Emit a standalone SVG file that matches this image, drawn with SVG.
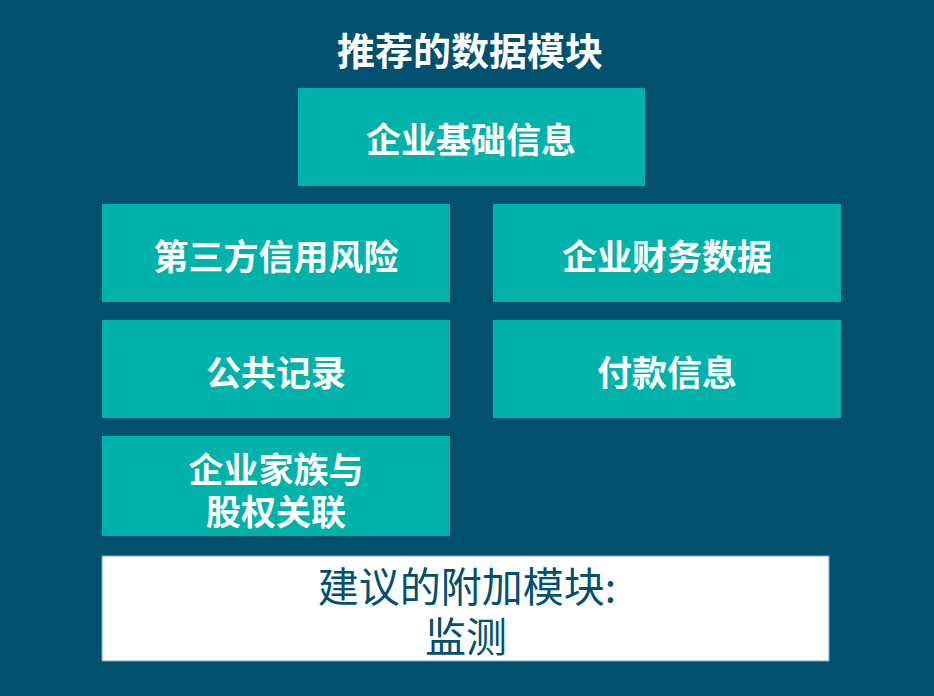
<svg xmlns="http://www.w3.org/2000/svg" width="934" height="696" viewBox="0 0 934 696">
<style>
.bg{fill:#00506E}
.box{fill:#00B2A9}
.lbl{font-family:"Noto Sans CJK SC","Noto Sans",sans-serif;font-weight:bold;font-size:35px;fill:#FFFFFF;text-anchor:middle;dominant-baseline:central}
.title{font-family:"Noto Sans CJK SC","Noto Sans",sans-serif;font-weight:bold;font-size:38px;fill:#FFFFFF;text-anchor:middle;dominant-baseline:central}
.add{font-family:"Noto Sans CJK SC","Noto Sans",sans-serif;font-size:41px;fill:#00506E;text-anchor:middle;dominant-baseline:central}
</style>
<rect class="bg" x="0" y="0" width="934" height="696"/>
<text class="title" x="470" y="48">推荐的数据模块</text>
<g id="n1"><rect class="box" x="298" y="88" width="347" height="98"/><text class="lbl" x="471" y="137">企业基础信息</text></g>
<g id="n2"><rect class="box" x="102" y="204" width="348" height="98"/><text class="lbl" x="276" y="254">第三方信用风险</text></g>
<g id="n3"><rect class="box" x="493" y="204" width="348" height="98"/><text class="lbl" x="667" y="254">企业财务数据</text></g>
<g id="n4"><rect class="box" x="102" y="320" width="348" height="98"/><text class="lbl" x="276" y="370">公共记录</text></g>
<g id="n5"><rect class="box" x="493" y="320" width="348" height="98"/><text class="lbl" x="667" y="370">付款信息</text></g>
<g id="n6"><rect class="box" x="102" y="436" width="348" height="100"/><text class="lbl" x="276" y="467">企业家族与</text><text class="lbl" x="276" y="509">股权关联</text></g>
<g id="n7"><rect x="102" y="556" width="727" height="105" fill="#FFFFFF" stroke="#7FA7B7" stroke-width="1"/><text class="add" x="467" y="584">建议的附加模块:</text><text class="add" x="466" y="634">监测</text></g>
<g id="connectors"></g>
</svg>
